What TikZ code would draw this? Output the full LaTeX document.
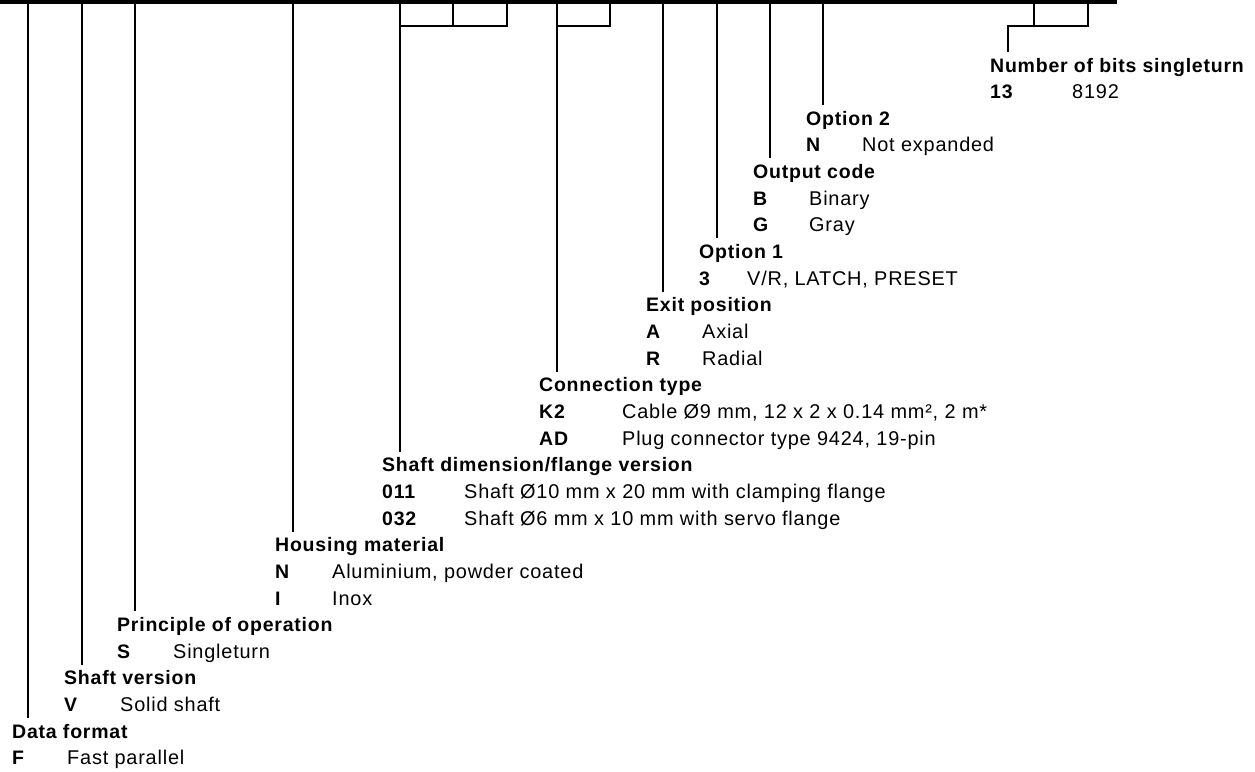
\documentclass[tikz,border=0pt]{standalone}
\usepackage{fontspec}
\setmainfont{Liberation Sans}[LetterSpace=4]
\usetikzlibrary{positioning}

\begin{document}
\begin{tikzpicture}[x=1pt, y=-1pt,
    hd/.style={anchor=base west, font=\fontsize{19.5}{19.5}\selectfont\bfseries, inner xsep=0pt, inner ysep=6pt, text height=14pt, text depth=4pt},
    key/.style={anchor=base west, font=\fontsize{19.5}{19.5}\selectfont\bfseries, inner sep=0pt},
    txt/.style={anchor=base west, font=\fontsize{19.9}{19.9}\selectfont, inner sep=0pt},
    bar/.style={line width=2.3pt}]
    \useasboundingbox (0,0) rectangle (1255,771);
    % top bar of the type key
    \fill (0,0) rectangle (1117,3.5);
    \coordinate (tdf) at (28,0);
    \coordinate (tsv) at (82,0);
    \coordinate (tpo) at (135,0);
    \coordinate (thm) at (293,0);
    \coordinate (tsd) at (400,0);
    \coordinate (tsd2) at (453,0);
    \coordinate (tsd3) at (507,0);
    \coordinate (tct) at (557,0);
    \coordinate (tct2) at (610,0);
    \coordinate (tep) at (663,0);
    \coordinate (to1) at (717,0);
    \coordinate (toc) at (770,0);
    \coordinate (to2) at (823,0);
    \coordinate (tnb) at (1008,26);
    \coordinate (tnb2) at (1034,0);
    \coordinate (tnb3) at (1088,0);

    % headings
    \node [hd] (nb) at (990,72) {Number of bits singleturn};
    \node [hd] (o2) at (806,125.3) {Option 2};
    \node [hd] (oc) at (753,178.6) {Output code};
    \node [hd] (o1) at (699,258.55) {Option 1};
    \node [hd] (ep) at (646,311.85) {Exit position};
    \node [hd] (ct) at (539,391.8) {Connection type};
    \node [hd] (sd) at (382,471.75) {Shaft dimension/flange version};
    \node [hd] (hm) at (275,551.7) {Housing material};
    \node [hd] (po) at (117,631.65) {Principle of operation};
    \node [hd] (sv) at (64,684.95) {Shaft version};
    \node [hd] (df) at (12,738.25) {Data format};

    % entries
    \node [key] (nb1) at ([yshift=-26.65pt]nb.base west) {13};
    \node [txt] at ([xshift=82pt]nb1.base west) {8192};
    \node [key] (o21) at ([yshift=-26.65pt]o2.base west) {N};
    \node [txt] at ([xshift=56pt]o21.base west) {Not expanded};
    \node [key] (oc1) at ([yshift=-26.65pt]oc.base west) {B};
    \node [txt] at ([xshift=56pt]oc1.base west) {Binary};
    \node [key] (oc2) at ([yshift=-26.65pt]oc1.base west) {G};
    \node [txt] at ([xshift=56pt]oc2.base west) {Gray};
    \node [key] (o11) at ([yshift=-26.65pt]o1.base west) {3};
    \node [txt] at ([xshift=48pt]o11.base west) {V/R, LATCH, PRESET};
    \node [key] (ep1) at ([yshift=-26.65pt]ep.base west) {A};
    \node [txt] at ([xshift=56pt]ep1.base west) {Axial};
    \node [key] (ep2) at ([yshift=-26.65pt]ep1.base west) {R};
    \node [txt] at ([xshift=56pt]ep2.base west) {Radial};
    \node [key] (ct1) at ([yshift=-26.65pt]ct.base west) {K2};
    \node [txt] at ([xshift=83pt]ct1.base west) {Cable Ø9 mm, 12 x 2 x 0.14 mm², 2 m*};
    \node [key] (ct2) at ([yshift=-26.65pt]ct1.base west) {AD};
    \node [txt] at ([xshift=83pt]ct2.base west) {Plug connector type 9424, 19-pin};
    \node [key] (sd1) at ([yshift=-26.65pt]sd.base west) {011};
    \node [txt] at ([xshift=82pt]sd1.base west) {Shaft Ø10 mm x 20 mm with clamping flange};
    \node [key] (sd2) at ([yshift=-26.65pt]sd1.base west) {032};
    \node [txt] at ([xshift=82pt]sd2.base west) {Shaft Ø6 mm x 10 mm with servo flange};
    \node [key] (hm1) at ([yshift=-26.65pt]hm.base west) {N};
    \node [txt] at ([xshift=57pt]hm1.base west) {Aluminium, powder coated};
    \node [key] (hm2) at ([yshift=-26.65pt]hm1.base west) {I};
    \node [txt] at ([xshift=57pt]hm2.base west) {Inox};
    \node [key] (po1) at ([yshift=-26.65pt]po.base west) {S};
    \node [txt] at ([xshift=56pt]po1.base west) {Singleturn};
    \node [key] (sv1) at ([yshift=-26.65pt]sv.base west) {V};
    \node [txt] at ([xshift=56pt]sv1.base west) {Solid shaft};
    \node [key] (df1) at ([yshift=-26.65pt]df.base west) {F};
    \node [txt] at ([xshift=55pt]df1.base west) {Fast parallel};

    % leader lines
    \draw [bar] (tdf) -- (tdf |- df.north);
    \draw [bar] (tsv) -- (tsv |- sv.north);
    \draw [bar] (tpo) -- (tpo |- po.north);
    \draw [bar] (thm) -- (thm |- hm.north);
    \draw [bar] (tsd) -- (tsd |- sd.north);
    \draw [bar] (tsd3) |- (tsd |- 0,26);
    \draw [bar] (tsd2) -- (tsd2 |- 0,26);
    \draw [bar] (tct) -- (tct |- ct.north);
    \draw [bar] (tct2) |- (tct |- 0,26);
    \draw [bar] (tep) -- (tep |- ep.north);
    \draw [bar] (to1) -- (to1 |- o1.north);
    \draw [bar] (toc) -- (toc |- oc.north);
    \draw [bar] (to2) -- (to2 |- o2.north);
    \draw [bar] (tnb3) |- (tnb) -- (tnb |- nb.north);
    \draw [bar] (tnb2) -- (tnb2 |- tnb);
\end{tikzpicture}
\end{document}
